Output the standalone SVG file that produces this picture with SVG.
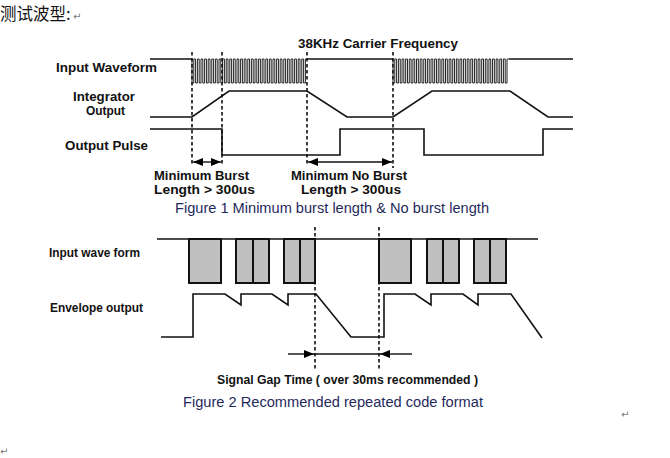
<svg xmlns="http://www.w3.org/2000/svg" width="670" height="458" viewBox="0 0 670 458">
<defs>
<marker id="ah" viewBox="0 0 10 8" refX="10" refY="4" markerWidth="10" markerHeight="8" markerUnits="userSpaceOnUse" orient="auto-start-reverse">
<path d="M0,0 L10,4 L0,8 Z" fill="#000"/>
</marker>
<style>
.lbl{font-family:"Liberation Sans",Arial,sans-serif;font-weight:bold;font-size:13.5px;fill:#111}
.lbl2{font-family:"Liberation Sans",Arial,sans-serif;font-weight:bold;font-size:12px;fill:#111}
.cap{font-family:"Liberation Sans",Arial,sans-serif;font-size:14px;fill:#1f2a5c}
.ret{font-family:"DejaVu Sans",sans-serif;font-size:10px;fill:#777}
.wave{fill:none;stroke:#111;stroke-width:1.6}
.burst{fill:none;stroke:#222;stroke-width:1}
.dash{fill:none;stroke:#111;stroke-width:1.6;stroke-dasharray:3.5,2.5}
.arr{fill:none;stroke:#111;stroke-width:1.4}
.blk{fill:#c0c0c0;stroke:#111;stroke-width:2}
</style>
</defs>
<rect width="670" height="458" fill="#fff"/>

<g id="title">
<text x="0" y="20" font-family="'Noto Sans CJK SC',sans-serif" font-size="16.5" fill="#111">测试波型:</text>
<text class="ret" x="73" y="20">↵</text>
</g>

<g id="fig1-labels">
<text class="lbl" x="298" y="48" textLength="160" lengthAdjust="spacingAndGlyphs">38KHz Carrier Frequency</text>
<text class="lbl" x="56" y="72" textLength="101" lengthAdjust="spacingAndGlyphs">Input Waveform</text>
<text class="lbl" x="73" y="101" textLength="62" lengthAdjust="spacingAndGlyphs">Integrator</text>
<text class="lbl" x="86" y="115" textLength="39" lengthAdjust="spacingAndGlyphs">Output</text>
<text class="lbl" x="65" y="150" textLength="83" lengthAdjust="spacingAndGlyphs">Output Pulse</text>
<text class="lbl" x="154" y="180" textLength="95" lengthAdjust="spacingAndGlyphs">Minimum Burst</text>
<text class="lbl" x="154" y="194" textLength="101" lengthAdjust="spacingAndGlyphs">Length &gt; 300us</text>
<text class="lbl" x="291" y="180" textLength="116" lengthAdjust="spacingAndGlyphs">Minimum No Burst</text>
<text class="lbl" x="301" y="194" textLength="100" lengthAdjust="spacingAndGlyphs">Length &gt; 300us</text>
<text class="cap" x="175" y="213" textLength="314" lengthAdjust="spacingAndGlyphs">Figure 1 Minimum burst length &amp; No burst length</text>
</g>

<g id="fig1-input-waveform">
<path class="wave" d="M150,59 H192"/>
<path class="burst" d="M192,59 v24h1.8v-24h1.8v24h1.8v-24h1.8v24h1.8v-24h1.8v24h1.8v-24h1.8 v24h1.8v-24h1.8v24h1.8v-24h1.8v24h1.8v-24h1.8v24h1.8v-24h1.8 v24h1.8v-24h1.8v24h1.8v-24h1.8v24h1.8v-24h1.8v24h1.8v-24h1.8 v24h1.8v-24h1.8v24h1.8v-24h1.8v24h1.8v-24h1.8v24h1.8v-24h1.8 v24h1.8v-24h1.8v24h1.8v-24h1.8v24h1.8v-24h1.8v24h1.8v-24h1.8 v24h1.8v-24h1.8v24h1.8v-24h1.8v24h1.8v-24h1.8v24h1.8v-24h1.8 v24h1.8v-24h1.8v24h1.8v-24h1.8v24h1.8v-24h1.8v24h1.8v-24h1.8 v24h1.8v-24h1.8v24h1.8v-24h1.8v24h1.8v-24h1.8v24h1.8v-24h1.8"/>
<path class="wave" d="M307,59 H393"/>
<path class="burst" d="M393,59 v24h1.81v-24h1.81v24h1.81v-24h1.81v24h1.81v-24h1.81v24h1.81v-24h1.81 v24h1.81v-24h1.81v24h1.81v-24h1.81v24h1.81v-24h1.81v24h1.81v-24h1.81 v24h1.81v-24h1.81v24h1.81v-24h1.81v24h1.81v-24h1.81v24h1.81v-24h1.81 v24h1.81v-24h1.81v24h1.81v-24h1.81v24h1.81v-24h1.81v24h1.81v-24h1.81 v24h1.81v-24h1.81v24h1.81v-24h1.81v24h1.81v-24h1.81v24h1.81v-24h1.81 v24h1.81v-24h1.81v24h1.81v-24h1.81v24h1.81v-24h1.81v24h1.81v-24h1.81 v24h1.81v-24h1.81v24h1.81v-24h1.81v24h1.81v-24h1.81v24h1.81v-24h1.81 v24h1.81v-24h1.81v24h1.81v-24h1.81v24h1.81v-24h1.81v24h1.81v-24h1.81"/>
<path class="wave" d="M509,59 H573"/>
</g>

<g id="fig1-integrator">
<path class="wave" d="M150,117 H192 L229,91 H307 L347,117 H393 L432,91 H510 L548,117 H573"/>
</g>

<g id="fig1-output-pulse">
<path class="wave" d="M150,129 H222 V155 H340 V129 H424 V155 H543 V129 H573"/>
</g>

<g id="connectors">
<path class="dash" d="M192,52 V166"/>
<path class="dash" d="M222,52 V166"/>
<path class="dash" d="M307,52 V166"/>
<path class="dash" d="M393,52 V168"/>
<path class="arr" d="M193,162 H221" marker-start="url(#ah)" marker-end="url(#ah)"/>
<path class="arr" d="M308,162 H392" marker-start="url(#ah)" marker-end="url(#ah)"/>

<path class="dash" d="M315,227 V370"/>
<path class="dash" d="M379,227 V370"/>
<path class="arr" d="M288,354 H314" marker-end="url(#ah)"/>
<path class="arr" d="M314,354 H380"/>
<path class="arr" d="M412,354 H380" marker-end="url(#ah)"/>
</g>

<g id="fig2-labels">
<text class="lbl2" x="49" y="257" textLength="91" lengthAdjust="spacingAndGlyphs">Input wave form</text>
<text class="lbl2" x="50" y="312" textLength="93" lengthAdjust="spacingAndGlyphs">Envelope output</text>
<text class="lbl2" x="217" y="384" textLength="261" lengthAdjust="spacingAndGlyphs">Signal Gap Time ( over 30ms recommended )</text>
<text class="cap" x="183" y="407" textLength="300" lengthAdjust="spacingAndGlyphs">Figure 2 Recommended repeated code format</text>
</g>

<g id="fig2-input">
<path class="wave" d="M157,239 H538"/>
<rect class="blk" x="189" y="239" width="32" height="44"/>
<rect class="blk" x="236" y="239" width="17" height="44"/>
<rect class="blk" x="253" y="239" width="16" height="44"/>
<rect class="blk" x="284" y="239" width="16" height="44"/>
<rect class="blk" x="300" y="239" width="15" height="44"/>
<rect class="blk" x="379" y="239" width="32" height="44"/>
<rect class="blk" x="427" y="239" width="16" height="44"/>
<rect class="blk" x="443" y="239" width="16" height="44"/>
<rect class="blk" x="474" y="239" width="16" height="44"/>
<rect class="blk" x="490" y="239" width="16" height="44"/>
</g>

<g id="fig2-envelope">
<path class="wave" stroke-width="2" d="M161,337 H193 V294 H225 L241,305 V294 H272 L288,305 V294 H316 L351,337 H384 V294 H415 L431,305 V294 H463 L478,305 V294 H511 L542,338"/>
</g>

<g id="marks">
<text class="ret" x="621" y="418">↵</text>
<text class="ret" x="0" y="455">↵</text>
</g>
</svg>
